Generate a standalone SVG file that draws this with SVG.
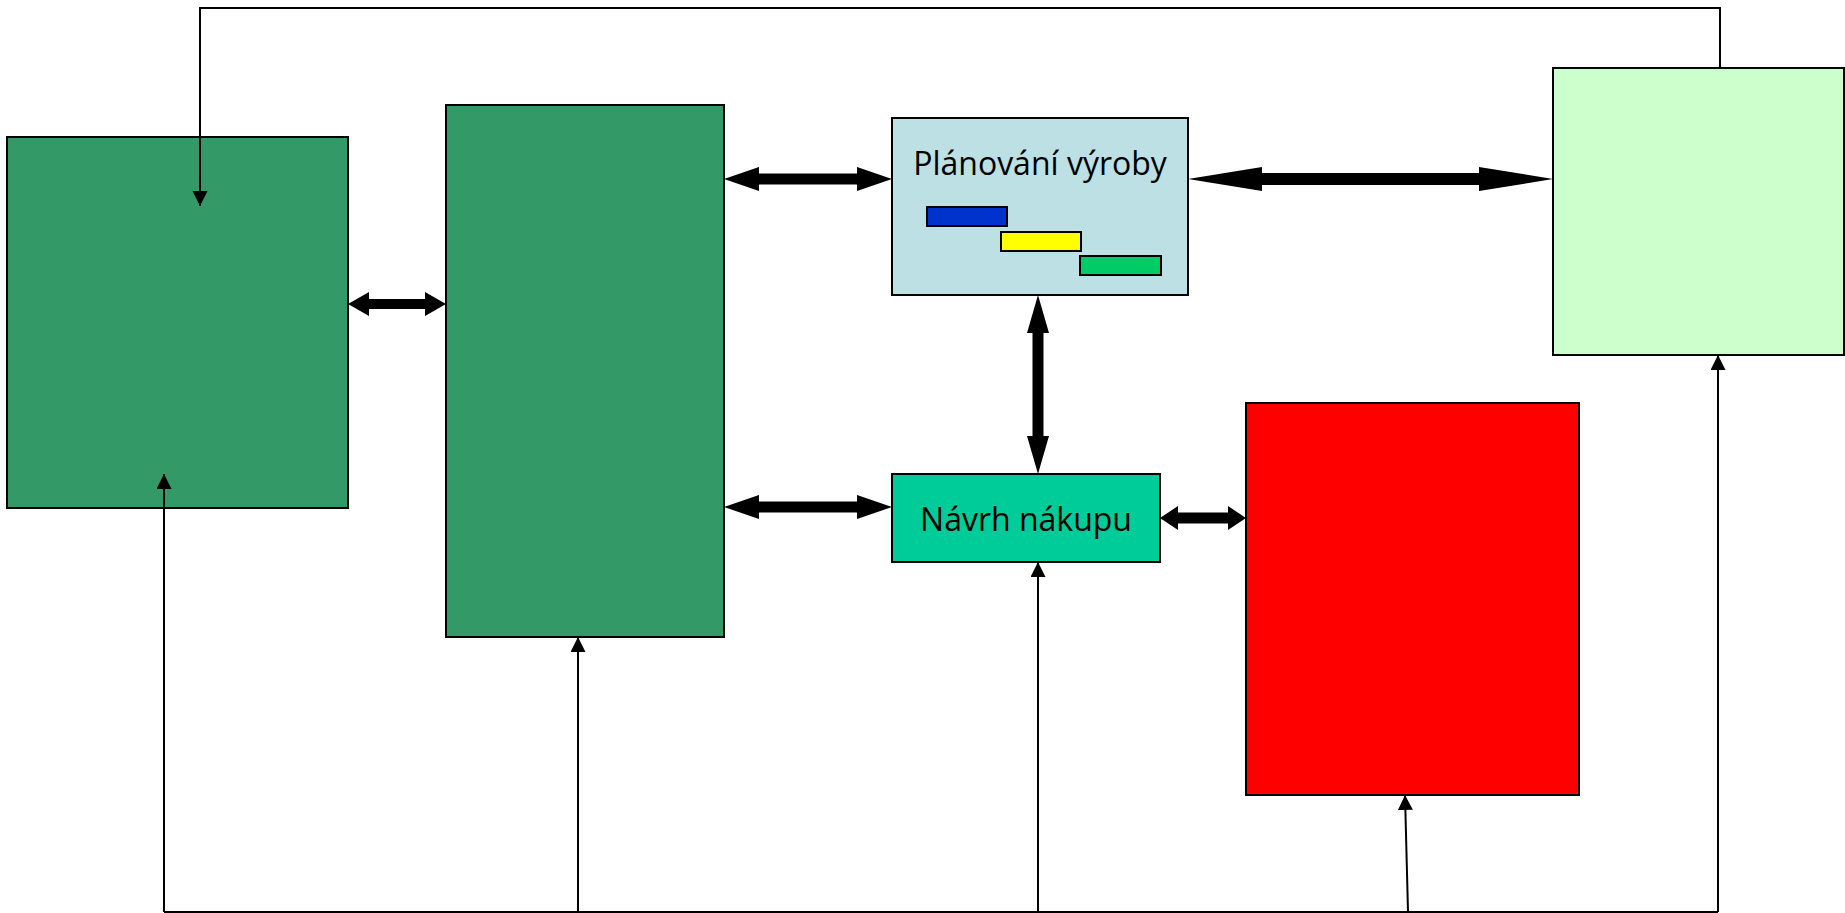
<svg xmlns="http://www.w3.org/2000/svg" width="1845" height="913" viewBox="0 0 1845 913">
<style>
.box{stroke:#000;stroke-width:2}
.lbl{font-family:"Open Sans","Noto Sans",sans-serif;font-size:32px;fill:#000;text-anchor:middle}
.thin{fill:none;stroke:#000;stroke-width:2}
.thick{fill:#000;stroke:none}
.bar{stroke:#000;stroke-width:2}
</style>
<defs>
<marker id="ah" markerUnits="userSpaceOnUse" markerWidth="16" markerHeight="16" refX="15" refY="7.5" orient="auto">
<path d="M0,0 L15,7.5 L0,15 Z" fill="#000"/>
</marker>
</defs>
<rect width="1845" height="913" fill="#fff"/>
<g id="n1"><rect class="box" x="7" y="137" width="341" height="371" fill="#339966"/></g>
<g id="n2"><rect class="box" x="446" y="105" width="278" height="532" fill="#339966"/></g>
<g id="n3">
<rect class="box" x="892" y="118" width="296" height="177" fill="#BCE0E4"/>
<text class="lbl" x="1040" y="175">Plánování výroby</text>
<rect class="bar" x="927" y="207" width="80" height="19" fill="#0033CC"/>
<rect class="bar" x="1001" y="232" width="80" height="19" fill="#FFFF00"/>
<rect class="bar" x="1080" y="256" width="81" height="19" fill="#00CC66"/>
</g>
<g id="n4"><rect class="box" x="1553" y="68" width="291" height="287" fill="#CCFFCC"/></g>
<g id="n5">
<rect class="box" x="892" y="474" width="268" height="88" fill="#00CC99"/>
<text class="lbl" x="1026" y="531">Návrh nákupu</text>
</g>
<g id="n6"><rect class="box" x="1246" y="403" width="333" height="392" fill="#FF0000"/></g>
<g id="connectors">
<polygon class="thick" points="348,304 369,292 369,299 425,299 425,292 446,304 425,316 425,309 369,309 369,316"/>
<polygon class="thick" points="724,179 759,167 759,173.5 857,173.5 857,167 892,179 857,191 857,184.5 759,184.5 759,191"/>
<polygon class="thick" points="1188,179 1262,167 1262,173 1479,173 1479,167 1553,179 1479,191 1479,185 1262,185 1262,191"/>
<polygon class="thick" points="1038,295 1049,333 1043.5,333 1043.5,436 1049,436 1038,474 1027,436 1032.5,436 1032.5,333 1027,333"/>
<polygon class="thick" points="724,507 759,495 759,501.5 857,501.5 857,495 892,507 857,519 857,512.5 759,512.5 759,519"/>
<polygon class="thick" points="1160,518 1178,506 1178,512.5 1228,512.5 1228,506 1246,518 1228,530 1228,523.5 1178,523.5 1178,530"/>
<polyline class="thin" points="1720,68 1720,8 200,8 200,206" marker-end="url(#ah)"/>
<line class="thin" x1="164" y1="912" x2="1718" y2="912"/>
<line class="thin" x1="164" y1="912" x2="164" y2="474" marker-end="url(#ah)"/>
<line class="thin" x1="578" y1="912" x2="578" y2="637" marker-end="url(#ah)"/>
<line class="thin" x1="1038" y1="912" x2="1038" y2="562" marker-end="url(#ah)"/>
<line class="thin" x1="1408" y1="912" x2="1405" y2="795" marker-end="url(#ah)"/>
<line class="thin" x1="1718" y1="912" x2="1718" y2="355" marker-end="url(#ah)"/>
</g>
</svg>
